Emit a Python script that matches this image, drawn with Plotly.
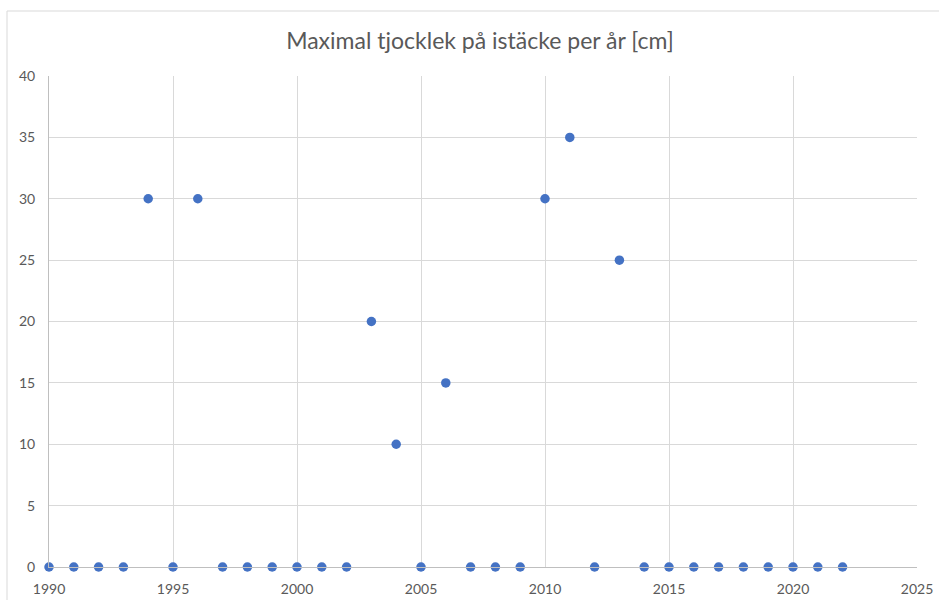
import plotly.graph_objects as go

# Maximum ice thickness per year (cm)
years = list(range(1990, 2023))
thickness_cm = [
    0, 0, 0, 0, 30, 0, 30, 0, 0, 0,   # 1990-1999
    0, 0, 0, 20, 10, 0, 15, 0, 0, 0,  # 2000-2009
    30, 35, 0, 25, 0, 0, 0, 0, 0, 0,  # 2010-2019
    0, 0, 0,                          # 2020-2022
]

title_text = "Maximal tjocklek på istäcke per år [cm]"
x_ticks = list(range(1990, 2026, 5))
y_ticks = list(range(0, 41, 5))

FONT = "Lato, 'Open Sans', sans-serif"
TEXT_COLOR = "#595959"
GRID = "#d9d9d9"
AXIS = "#bfbfbf"

fig = go.Figure(
    go.Scatter(
        x=years,
        y=thickness_cm,
        mode="markers",
        marker=dict(size=9.5, color="#4472C4"),
        cliponaxis=False,
        showlegend=False,
    )
)

W, H = 939, 600
ml, mr, mt, mb = 49, 22, 76, 33
pw, ph = W - ml - mr, H - mt - mb

fig.update_layout(
    width=W,
    height=H,
    margin=dict(l=ml, r=mr, t=mt, b=mb, pad=0, autoexpand=False),
    paper_bgcolor="white",
    plot_bgcolor="white",
    font=dict(family=FONT, color=TEXT_COLOR, size=14),
    title=dict(
        text=title_text,
        xref="container",
        x=480 / W,
        xanchor="center",
        y=1 - 41 / H,
        yanchor="middle",
        font=dict(family=FONT, size=23, color=TEXT_COLOR),
    ),
    xaxis=dict(
        range=[1990, 2025],
        tickvals=x_ticks,
        automargin=False,
        showgrid=True,
        gridcolor=GRID,
        gridwidth=1,
        zeroline=False,
        showline=True,
        linecolor=AXIS,
        linewidth=1,
        ticks="outside",
        ticklen=9,
        tickcolor="rgba(0,0,0,0)",
        tickfont=dict(family=FONT, size=14, color=TEXT_COLOR),
    ),
    yaxis=dict(
        range=[0, 40],
        tickvals=y_ticks,
        automargin=False,
        showgrid=True,
        gridcolor=GRID,
        gridwidth=1,
        zeroline=False,
        showline=True,
        linecolor=AXIS,
        linewidth=1,
        ticks="outside",
        ticklen=10,
        tickcolor="rgba(0,0,0,0)",
        tickfont=dict(family=FONT, size=14, color=TEXT_COLOR),
    ),
)

# Light frame around the whole chart area
fig.add_shape(
    type="rect",
    xref="paper",
    yref="paper",
    x0=(7 - ml) / pw,
    x1=(W + 10 - ml) / pw,
    y0=-(H + 10 - (H - mb)) / ph,
    y1=(H - mb - 11) / ph,
    line=dict(color=GRID, width=1),
    fillcolor="rgba(0,0,0,0)",
    layer="below",
)

fig.write_html("out.html")
